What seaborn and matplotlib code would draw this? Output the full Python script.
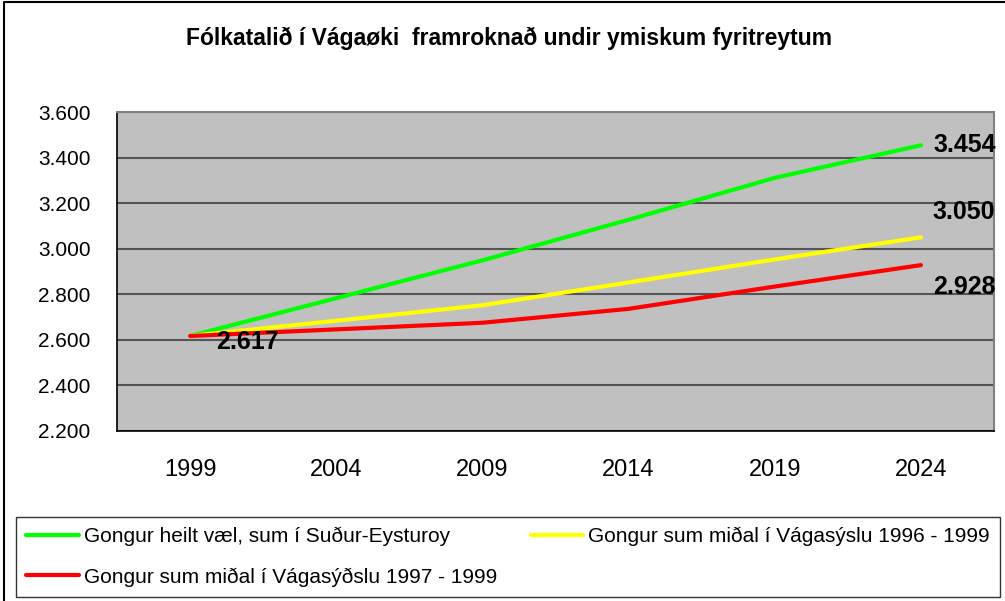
import pandas as pd
import numpy as np
import seaborn as sns
import matplotlib.pyplot as plt
from matplotlib.lines import Line2D

years = ['1999', '2004', '2009', '2014', '2019', '2024']
green = [2617, 2783, 2949, 3127, 3311, 3454]
yellow = [2617, 2684, 2752, 2852, 2953, 3050]
red = [2617, 2646, 2675, 2736, 2834, 2928]
series_names = ['Gongur heilt væl, sum í Suður-Eysturoy',
                'Gongur sum miðal í Vágasýslu 1996 - 1999',
                'Gongur sum miðal í Vágasýðslu 1997 - 1999']
colors = ['#00FF00', '#FFFF00', '#FF0000']
y_ticks = [2200, 2400, 2600, 2800, 3000, 3200, 3400, 3600]
title = 'Fólkatalið í Vágaøki  framroknað undir ymiskum fyritreytum'

sns.set_style('white')
plt.rcParams['font.family'] = ['Liberation Sans', 'DejaVu Sans']
plt.rcParams['text.color'] = 'black'
plt.rcParams['xtick.color'] = 'black'
plt.rcParams['ytick.color'] = 'black'

df = pd.DataFrame({
    'pos': np.tile(np.arange(len(years)), 3),
    'value': green + yellow + red,
    'series': np.repeat(series_names, len(years)),
})

fig = plt.figure(figsize=(10.05, 6.01), dpi=100)
ax = fig.add_axes([117 / 1005, 1 - 431 / 601, 877 / 1005, 319 / 601])
ax.set_facecolor('#C0C0C0')

sns.lineplot(data=df, x='pos', y='value', hue='series', palette=colors,
             linewidth=3, ax=ax, legend=True)

ax.set_xlim(-0.5, len(years) - 0.5)
ax.set_ylim(y_ticks[0], y_ticks[-1])
ax.set_yticks(y_ticks)
ax.set_yticklabels([f'{v:,}'.replace(',', '.') for v in y_ticks], fontsize=15)
ax.yaxis.grid(True, color='#555555', linewidth=1.5)
ax.set_axisbelow(True)

ax.set_xticks(np.arange(len(years) + 1) - 0.5)
ax.set_xticklabels([])
ax.set_xticks(np.arange(len(years)), minor=True)
ax.set_xticklabels(years, minor=True, fontsize=17)
ax.tick_params(axis='x', which='minor', length=0, pad=20)
ax.tick_params(axis='x', which='major', length=7, width=1, color='black', direction='out')
ax.tick_params(axis='y', length=7, width=1, color='black', direction='out', pad=12)
ax.set_xlabel('')
ax.set_ylabel('')

for side in ['left', 'bottom']:
    ax.spines[side].set_color('black')
    ax.spines[side].set_linewidth(1.2)
for side in ['top', 'right']:
    ax.spines[side].set_color('#808080')
    ax.spines[side].set_linewidth(1.5)

# etiketter
fmt = lambda v: f'{v:,}'.replace(',', '.')
ax.annotate(fmt(green[0]), (0, green[0]), xytext=(19, -4), textcoords='offset points',
            fontsize=18, fontweight='bold', va='center', ha='left')
ax.annotate(fmt(green[-1]), (5, green[-1]), xytext=(9, 0), textcoords='offset points',
            fontsize=18, fontweight='bold', va='center', ha='left')
ax.annotate(fmt(yellow[-1]), (5, yellow[-1]), xytext=(8, 18), textcoords='offset points',
            fontsize=18, fontweight='bold', va='center', ha='left')
ax.annotate(fmt(red[-1]), (5, red[-1]), xytext=(9, -16), textcoords='offset points',
            fontsize=18, fontweight='bold', va='center', ha='left')

handles, labels = ax.get_legend_handles_labels()
ax.get_legend().remove()
order = [0, 2, 1]
leg = fig.legend([handles[i] for i in order], [labels[i] for i in order], ncol=2,
                 loc='lower left', mode='expand',
                 bbox_to_anchor=(16 / 1005, 4 / 601, 984 / 1005, 82 / 601),
                 fontsize=15, frameon=True, fancybox=False, handlelength=2.5,
                 handletextpad=0.25, borderaxespad=0, borderpad=0.5, labelspacing=1.0)
leg.get_frame().set_edgecolor('black')
leg.get_frame().set_linewidth(1)
for line in leg.get_lines():
    line.set_linewidth(3)

fig.text(509 / 1005, 1 - 38 / 601, title, ha='center', va='center',
         fontsize=16.5, fontweight='bold')

# ramma kring myndina
fig.add_artist(Line2D([4 / 1005, 4 / 1005, 1.0], [0, 1 - 2 / 601, 1 - 2 / 601],
                      transform=fig.transFigure, color='black', linewidth=1.5))

plt.savefig('out.png', dpi=100)
